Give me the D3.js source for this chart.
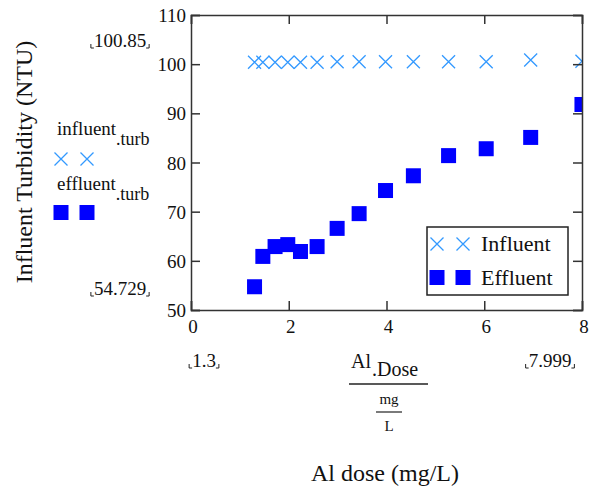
<!DOCTYPE html>
<html>
<head>
<meta charset="utf-8">
<script src="https://cdn.jsdelivr.net/npm/d3@7"></script>
<style>
  body { margin: 0; background: #fff; }
  text { font-family: "Liberation Serif", "Times New Roman", serif; fill: #111; }
</style>
</head>
<body>
<div id="chart"></div>
<script>
// Chart size and plot box
const width = 593;
const height = 493;
const margin = { top: 15, right: 11, bottom: 183, left: 191 };

// Data
const alDose = [1.3, 1.47, 1.72, 1.98, 2.24, 2.58, 2.99, 3.44, 3.98, 4.55, 5.27, 6.04, 6.95, 7.999];
const influentTurb = [100.4, 100.4, 100.4, 100.4, 100.4, 100.4, 100.5, 100.5, 100.5, 100.5, 100.5, 100.5, 100.85, 100.6];
const effluentTurb = [54.729, 60.9, 62.9, 63.3, 61.9, 62.9, 66.6, 69.6, 74.3, 77.3, 81.4, 82.8, 85.1, 91.8];
const xTicks = [0, 2, 4, 6, 8];
const yTicks = [50, 60, 70, 80, 90, 100, 110];
const seriesNames = ["Influent", "Effluent"];

const crossColor = "#3399ff";
const squareColor = "#0000ff";

const svg = d3.select("#chart")
    .append("svg")
    .attr("width", width)
    .attr("height", height);

const x = d3.scaleLinear().domain([0, 8]).range([margin.left, width - margin.right]);
const y = d3.scaleLinear().domain([50, 110]).range([height - margin.bottom, margin.top]);

const points = alDose.map((d, i) => ({ x: d, inf: influentTurb[i], eff: effluentTurb[i] }));

// clip markers to the plot box
svg.append("clipPath").attr("id", "plotClip")
    .append("rect")
    .attr("x", x(0)).attr("y", y(110))
    .attr("width", x(8) - x(0)).attr("height", y(50) - y(110));

function crossPath(cx, cy, s) {
    return `M${cx - s},${cy - s}L${cx + s},${cy + s}M${cx - s},${cy + s}L${cx + s},${cy - s}`;
}

const plot = svg.append("g").attr("clip-path", "url(#plotClip)");

// Influent crosses
plot.selectAll("path.inf")
    .data(points)
    .enter()
    .append("path")
    .attr("class", "inf")
    .attr("d", d => crossPath(x(d.x), y(d.inf), 6.5))
    .attr("stroke", crossColor)
    .attr("stroke-width", 1.3)
    .attr("fill", "none");

// Effluent squares
plot.selectAll("rect.eff")
    .data(points)
    .enter()
    .append("rect")
    .attr("class", "eff")
    .attr("x", d => x(d.x) - 7.5)
    .attr("y", d => y(d.eff) - 7.5)
    .attr("width", 15)
    .attr("height", 15)
    .attr("fill", squareColor);

// Axes: ticks inward on all four sides
const tickLen = 9;
const axisColor = "#333";

svg.append("g")
    .attr("transform", `translate(0,${y(50)})`)
    .call(d3.axisBottom(x).tickValues(xTicks).tickSize(-tickLen).tickFormat(""))
    .call(g => g.selectAll("line,path").attr("stroke", axisColor).attr("stroke-width", 1.5));
svg.append("g")
    .attr("transform", `translate(0,${y(110)})`)
    .call(d3.axisTop(x).tickValues(xTicks).tickSize(-tickLen).tickFormat(""))
    .call(g => g.selectAll("line,path").attr("stroke", axisColor).attr("stroke-width", 1.5));
svg.append("g")
    .attr("transform", `translate(${x(0)},0)`)
    .call(d3.axisLeft(y).tickValues(yTicks).tickSize(-tickLen).tickFormat(""))
    .call(g => g.selectAll("line,path").attr("stroke", axisColor).attr("stroke-width", 1.5));
svg.append("g")
    .attr("transform", `translate(${x(8)},0)`)
    .call(d3.axisRight(y).tickValues(yTicks).tickSize(-tickLen).tickFormat(""))
    .call(g => g.selectAll("line,path").attr("stroke", axisColor).attr("stroke-width", 1.5));

// tick labels
svg.selectAll("text.ylab")
    .data(yTicks)
    .enter()
    .append("text")
    .attr("x", x(0) - 5)
    .attr("y", d => y(d) + 7)
    .attr("text-anchor", "end")
    .attr("font-size", 19)
    .text(d => d);

svg.selectAll("text.xlab")
    .data(xTicks)
    .enter()
    .append("text")
    .attr("x", d => x(d) + 2)
    .attr("y", y(50) + 23)
    .attr("text-anchor", "middle")
    .attr("font-size", 19)
    .text(d => d);

// Mathcad-style range placeholders with little corner marks
function rangeLabel(cx, baseline, txt, anchor) {
    const t = svg.append("text")
        .attr("x", cx).attr("y", baseline)
        .attr("text-anchor", anchor)
        .attr("font-size", 19)
        .text(txt);
    const bb = t.node().getBBox();
    const l = bb.x - 3, r = bb.x + bb.width + 3;
    svg.append("path")
        .attr("d", `M${l},${baseline - 3}V${baseline + 1}H${l + 3}M${r},${baseline - 3}V${baseline + 1}H${r - 3}`)
        .attr("stroke", "#222").attr("stroke-width", 1).attr("fill", "none");
}
rangeLabel(120, 47, d3.max(influentTurb).toString(), "middle");
rangeLabel(120, 295, d3.min(effluentTurb).toString(), "middle");
rangeLabel(204, 367, d3.min(alDose).toString(), "middle");
rangeLabel(550, 367, d3.max(alDose).toString(), "middle");

// left-hand trace labels
function traceLabel(xpos, baseline, main, sub) {
    const t = svg.append("text").attr("x", xpos).attr("y", baseline).attr("font-size", 19);
    t.append("tspan").text(main);
    t.append("tspan").attr("dy", 10).attr("font-size", 18).text(sub);
}
traceLabel(57, 135, "influent", ".turb");
traceLabel(57, 190, "effluent", ".turb");

const leftMarkX = [61, 87];
svg.selectAll("path.lcross")
    .data(leftMarkX)
    .enter()
    .append("path")
    .attr("d", d => crossPath(d, 159, 6.5))
    .attr("stroke", crossColor).attr("stroke-width", 1.3).attr("fill", "none");
svg.selectAll("rect.lsq")
    .data(leftMarkX)
    .enter()
    .append("rect")
    .attr("x", d => d - 7.5).attr("y", 205)
    .attr("width", 15).attr("height", 15)
    .attr("fill", squareColor);

// Legend
const legend = svg.append("g");
legend.append("rect")
    .attr("x", 427).attr("y", 227)
    .attr("width", 141).attr("height", 68)
    .attr("fill", "#fff").attr("stroke", "#222").attr("stroke-width", 1.5);
[437, 463].forEach(lx => {
    legend.append("path").attr("d", crossPath(lx, 244, 6.5))
        .attr("stroke", crossColor).attr("stroke-width", 1.3).attr("fill", "none");
    legend.append("rect").attr("x", lx - 7.5).attr("y", 270).attr("width", 15).attr("height", 15)
        .attr("fill", squareColor);
});
legend.selectAll("text")
    .data(seriesNames)
    .enter()
    .append("text")
    .attr("x", 481)
    .attr("y", (d, i) => 251 + i * 34)
    .attr("font-size", 22)
    .text(d => d);

// Y axis title
svg.append("text")
    .attr("transform", "translate(32,162) rotate(-90)")
    .attr("text-anchor", "middle")
    .attr("font-size", 24)
    .text("Influent Turbidity (NTU)");

// X axis expression: Al.Dose / (mg/L)
const frac = svg.append("text").attr("x", 351).attr("y", 368).attr("font-size", 20);
frac.append("tspan").text("Al");
frac.append("tspan").attr("dx", 1).attr("dy", 8).text(".Dose");
svg.append("line").attr("x1", 349).attr("x2", 428).attr("y1", 384).attr("y2", 384)
    .attr("stroke", "#222").attr("stroke-width", 1.5);
svg.append("text").attr("x", 389).attr("y", 404).attr("text-anchor", "middle")
    .attr("font-size", 15).text("mg");
svg.append("line").attr("x1", 376).attr("x2", 402).attr("y1", 412).attr("y2", 412)
    .attr("stroke", "#222").attr("stroke-width", 1.2);
svg.append("text").attr("x", 389).attr("y", 431).attr("text-anchor", "middle")
    .attr("font-size", 15).text("L");

// X axis title
svg.append("text")
    .attr("x", 385)
    .attr("y", 481)
    .attr("text-anchor", "middle")
    .attr("font-size", 24)
    .text("Al dose (mg/L)");
</script>
</body>
</html>
